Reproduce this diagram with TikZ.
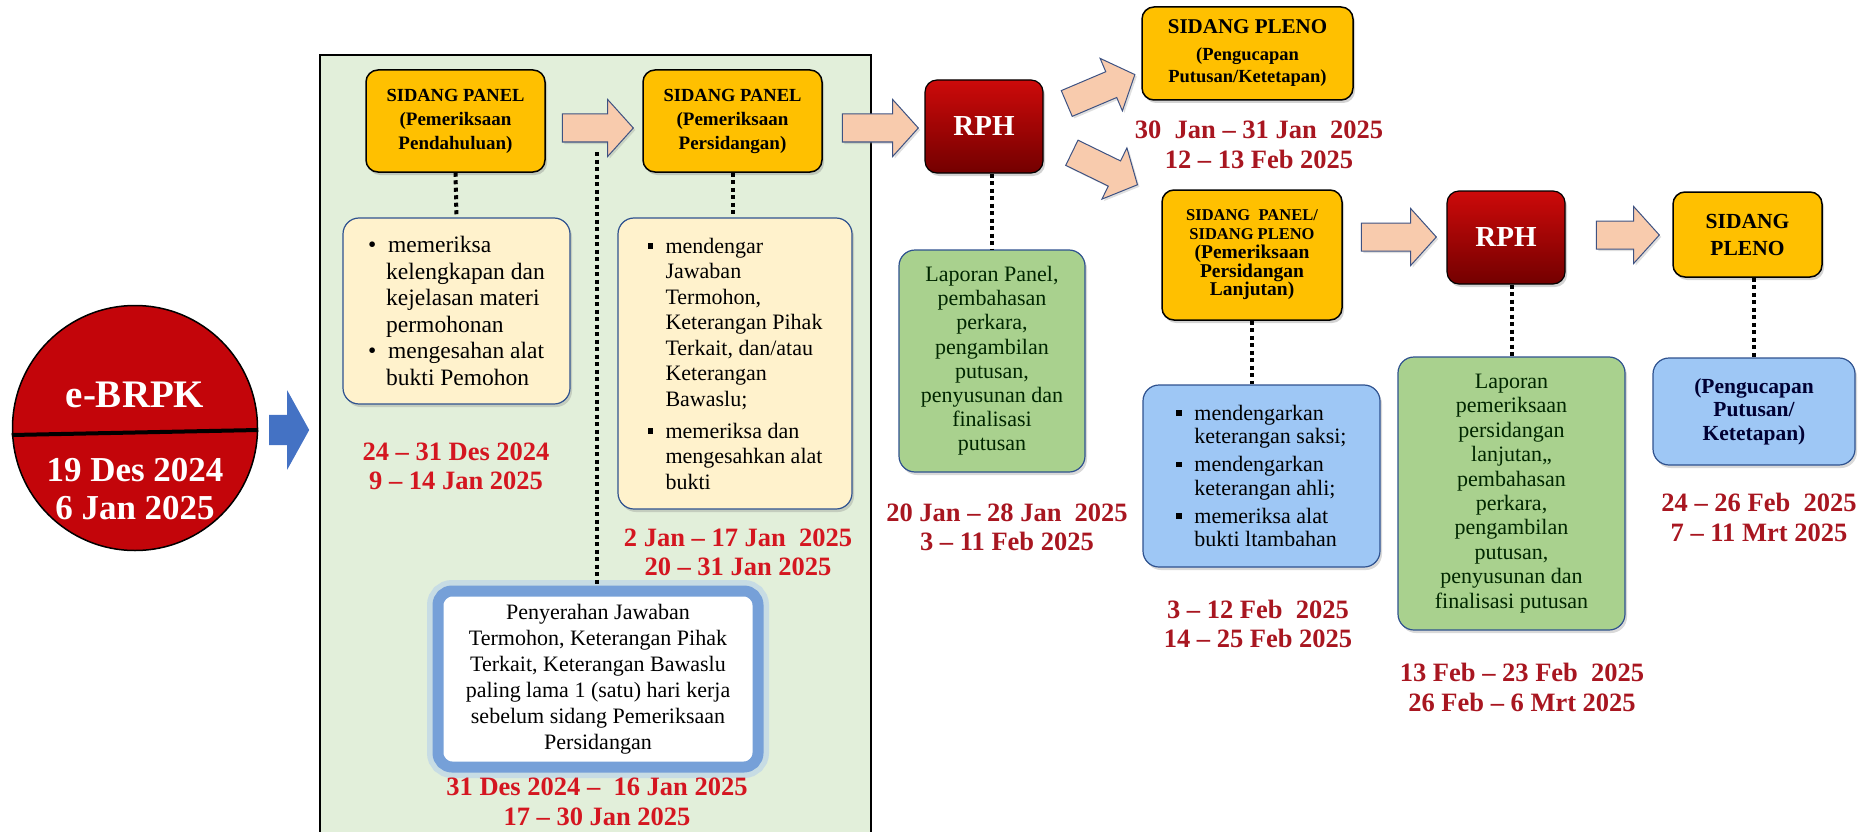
\documentclass[tikz,border=0pt]{standalone}
\usepackage{fontspec}
\setmainfont{Liberation Serif}
\usetikzlibrary{shapes.arrows, shadows}

% colours
\definecolor{orangebox}{RGB}{255,192,0}
\definecolor{beigebox}{RGB}{255,242,204}
\definecolor{greenbox}{RGB}{169,209,142}
\definecolor{bluebox}{RGB}{158,199,245}
\definecolor{boxedge}{RGB}{47,82,143}
\definecolor{arrowpink}{RGB}{248,203,173}
\definecolor{arrowedge}{RGB}{62,82,130}
\definecolor{arrowblue}{RGB}{68,114,196}
\definecolor{panelgreen}{RGB}{226,239,218}
\definecolor{rphtop}{RGB}{205,10,10}
\definecolor{rphbot}{RGB}{115,0,0}
\definecolor{circred}{RGB}{195,5,10}
\definecolor{datered}{RGB}{212,22,32}
\definecolor{datedark}{RGB}{168,22,32}
\definecolor{glowblue}{RGB}{118,160,216}
\definecolor{glowsoft}{RGB}{178,205,237}

% fonts and bullets
\newcommand{\bodyfont}{\fontsize{22}{25.5}\selectfont}
\newcommand{\capline}[1]{{\fontsize{18.5}{24}\selectfont #1}}
\newcommand{\sqbul}{\makebox[18pt][l]{\raisebox{4.5pt}{\rule{5.5pt}{5.5pt}}}}
\newcommand{\rndbul}{\makebox[20pt][l]{\textbullet}}
\newcommand{\bhang}{\hspace*{18pt}}

\tikzset{
  sidang/.style={draw=black, line width=1.5pt, fill=orangebox, rounded corners=12pt,
    align=center, inner sep=0pt, font=\fontsize{19}{24}\selectfont\bfseries,
    drop shadow={opacity=0.35, shadow xshift=2pt, shadow yshift=-3pt}},
  rph/.style={draw=black, line width=1.2pt, top color=rphtop, bottom color=rphbot,
    rounded corners=12pt, text=white, font=\fontsize{29}{32}\selectfont\bfseries,
    minimum width=118pt, minimum height=93pt, inner sep=0pt,
    drop shadow={opacity=0.35, shadow xshift=2pt, shadow yshift=-3pt}},
  notebox/.style={draw=boxedge, line width=1.2pt, rounded corners=16pt, inner sep=0pt,
    font=\bodyfont, drop shadow={opacity=0.3, shadow xshift=2pt, shadow yshift=-3pt}},
  pinkarrow/.style={single arrow, draw=arrowedge, line width=1pt, fill=arrowpink,
    inner xsep=0pt, inner ysep=13.5pt, single arrow head extend=14.5pt,
    single arrow tip angle=96,
    drop shadow={opacity=0.25, shadow xshift=2pt, shadow yshift=-2pt}},
  bluearrow/.style={single arrow, draw=none, fill=arrowblue, inner xsep=0pt,
    inner ysep=15pt, single arrow head extend=24.5pt, single arrow tip angle=122},
  dotline/.style={line width=4pt, dash pattern=on 4pt off 3.5pt},
  datetext/.style={align=center, font=\fontsize{26.5}{29.5}\selectfont\bfseries, text=datered},
}

\begin{document}
\begin{tikzpicture}[x=1pt, y=-1pt]

    \useasboundingbox (0,0) rectangle (1865,832);

    % --- e-BRPK circle ---
    \node[circle, draw=black, line width=1.5pt, fill=circred, minimum size=245pt,
      inner sep=0pt] (ebrpk) at (135,428) {};
    \draw[line width=4pt] ([yshift=-7pt]ebrpk.west) -- ([yshift=-2pt]ebrpk.east);
    \node[text=white, font=\fontsize{39}{42}\selectfont\bfseries] (ebrpkname) at (135,395) {e-BRPK};
    \node[text=white, align=center, font=\fontsize{35}{38}\selectfont\bfseries] (ebrpkdate)
      at (135,489) {19 Des 2024\\6 Jan 2025};
    \node[bluearrow, minimum height=40pt] (arr0) at (285,430) {};

    % --- Sidang panel block ---
    \draw[line width=1.5pt, fill=panelgreen] (320,55) rectangle (871,845);

    \node[sidang, minimum width=179pt, minimum height=102pt] (sp1) at (455.5,121)
      {\capline{SIDANG PANEL}\\(Pemeriksaan\\Pendahuluan)};
    \node[sidang, minimum width=179pt, minimum height=102pt] (sp2) at (732.5,121)
      {\capline{SIDANG PANEL}\\(Pemeriksaan\\Persidangan)};
    \node[pinkarrow, minimum height=71pt] (arr1) at (591.5,128) {};
    \node[pinkarrow, minimum height=76pt] (arr2) at (874,128) {};

    \node[notebox, fill=beigebox, minimum width=227pt, minimum height=186pt, align=left,
      font=\fontsize{23.5}{26.5}\selectfont] (bx1) at (456.5,311)
      {\rndbul memeriksa\\ \bhang kelengkapan dan\\ \bhang kejelasan materi\\
       \bhang permohonan\\ \rndbul mengesahan alat\\ \bhang bukti Pemohon};
    \node[notebox, fill=beigebox, minimum width=234pt, minimum height=291pt, align=left]
      (bx2) at (735,363.5)
      {\sqbul mendengar\\ \bhang Jawaban\\ \bhang Termohon,\\ \bhang Keterangan Pihak\\
       \bhang Terkait, dan/atau\\ \bhang Keterangan\\ \bhang Bawaslu;\\[6.5pt]
       \sqbul memeriksa dan\\ \bhang mengesahkan alat\\ \bhang bukti};

    \node[datetext] (date1) at (456,466.5) {24 – 31 Des 2024\\9 – 14 Jan 2025};
    \node[datetext] (date2) at (738,552.5) {2 Jan – 17 Jan\ \ 2025\\20 – 31 Jan 2025};

    % submission box with soft blue rim
    \node[draw=glowblue, line width=11pt, fill=white, rounded corners=14pt,
      minimum width=320pt, minimum height=176pt, align=center, font=\fontsize{22}{26}\selectfont,
      preaction={draw=glowsoft, line width=22pt, opacity=0.55, rounded corners=17pt}]
      (serah) at (598,679)
      {Penyerahan Jawaban\\Termohon, Keterangan Pihak\\Terkait, Keterangan Bawaslu\\
       paling lama 1 (satu)\ hari kerja\\sebelum\ sidang Pemeriksaan\\Persidangan};
    \node[datetext] (date3) at (597,802) {31 Des 2024 –\ \ 16 Jan 2025\\17 – 30 Jan 2025};
    \coordinate (dtop) at (597,152);

    % --- first RPH ---
    \node[rph] (rph1) at (984,126.5) {RPH};
    \node[notebox, fill=greenbox, minimum width=186pt, minimum height=222pt, align=center,
      font=\fontsize{22}{24.2}\selectfont, text=black!85!green] (lap1) at (992,361)
      {Laporan Panel,\\pembahasan\\perkara,\\pengambilan\\putusan,\\penyusunan dan\\finalisasi\\putusan};
    \node[datetext, text=datedark] (date4) at (1007,527.5) {20 Jan – 28 Jan\ \ 2025\\3 – 11 Feb 2025};
    \node[pinkarrow, minimum height=74pt, rotate=23] (arr3) at (1095,91.5) {};
    \node[pinkarrow, minimum height=73pt, rotate=-26] (arr4) at (1099,166) {};

    % --- pleno (upper branch) ---
    \node[sidang, minimum width=211pt, minimum height=93pt, font=\fontsize{18.5}{22}\selectfont\bfseries]
      (pleno1) at (1247.5,53.5)
      {{\fontsize{21}{27}\selectfont SIDANG PLENO}\\[5pt](Pengucapan\\Putusan/Ketetapan)};
    \node[datetext, text=datedark] (date5) at (1259,145) {30\ \ Jan – 31 Jan\ \ 2025\\12 – 13 Feb 2025};

    % --- lanjutan (lower branch) ---
    \node[sidang, minimum width=180pt, minimum height=130pt, font=\fontsize{19.5}{18.8}\selectfont\bfseries]
      (sp3) at (1252,255)
      {{\fontsize{16.5}{18.8}\selectfont SIDANG\ \ PANEL/}\\{\fontsize{16.5}{18.8}\selectfont SIDANG PLENO}\\
       (Pemeriksaan\\Persidangan\\Lanjutan)};
    \node[notebox, fill=bluebox, minimum width=237pt, minimum height=182pt, align=left,
      font=\fontsize{22}{23.5}\selectfont] (blue1) at (1261.5,476)
      {\sqbul mendengarkan\\ \bhang keterangan saksi;\\[4.5pt] \sqbul mendengarkan\\
       \bhang keterangan ahli;\\[4.5pt] \sqbul memeriksa alat\\ \bhang bukti ltambahan};
    \node[datetext, text=datedark] (date6) at (1258,624) {3 – 12 Feb\ \ 2025\\14 – 25 Feb 2025};
    \node[pinkarrow, minimum height=75pt] (arr5) at (1392.5,237) {};

    % --- second RPH ---
    \node[rph] (rph2) at (1506,237.5) {RPH};
    \node[notebox, fill=greenbox, minimum width=227pt, minimum height=273pt, align=center,
      font=\fontsize{22}{24.4}\selectfont, text=black!85!green] (lap2) at (1511.5,493.5)
      {Laporan\\pemeriksaan\\persidangan\\lanjutan,,\\pembahasan\\perkara,\\pengambilan\\
       putusan,\\penyusunan dan\\finalisasi putusan};
    \node[datetext, text=datedark] (date7) at (1522,687.5) {13 Feb – 23 Feb\ \ 2025\\26 Feb – 6 Mrt 2025};
    \node[pinkarrow, minimum height=63pt] (arr6) at (1621.5,235) {};

    % --- final pleno ---
    \node[sidang, minimum width=149pt, minimum height=85pt, font=\fontsize{21.5}{27}\selectfont\bfseries]
      (sp4) at (1747.5,234.5) {SIDANG\\PLENO};
    \node[notebox, fill=bluebox, minimum width=202pt, minimum height=107pt, align=center,
      font=\fontsize{21.5}{23.5}\selectfont\bfseries, text=black!80!blue] (blue2) at (1754,411.5)
      {(Pengucapan\\Putusan/\\Ketetapan)};
    \node[datetext, text=datedark] (date8) at (1759,517.5) {24 – 26 Feb\ \ 2025\\7 – 11 Mrt 2025};

    % --- dotted links ---
    \draw[dotline] (sp1.south) -- (bx1.north);
    \draw[dotline] (sp2.south) -- (sp2.south |- bx2.north);
    \draw[dotline] (dtop) -- (dtop |- serah.north);
    \draw[dotline] (lap1.north |- rph1.south) -- (lap1.north);
    \draw[dotline] (sp3.south) -- (sp3.south |- blue1.north);
    \draw[dotline] (lap2.north |- rph2.south) -- (lap2.north);
    \draw[dotline] (blue2.north |- sp4.south) -- (blue2.north);

\end{tikzpicture}
\end{document}
